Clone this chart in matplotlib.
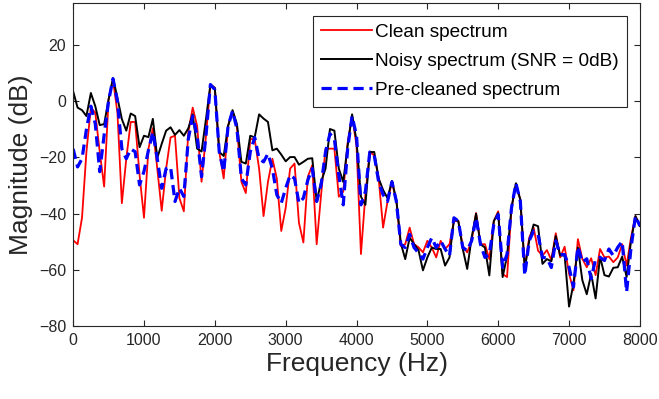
import numpy as np
import matplotlib
matplotlib.use("Agg")
import matplotlib.pyplot as plt

plt.rcParams['font.family'] = ['Liberation Sans', 'DejaVu Sans']

# frequency grid (Hz), 62.5 Hz bins up to 8 kHz
freq = np.arange(129) * 62.5

clean = [-49.5, -50.9, -41.5, -18.0, -2.3, -4.1, -18.0, -30.4, 0.6, 7.6,
         -4.1, -36.3, -20.5, -7.4, -7.4, -26.3, -41.5, -17.0, -9.6, -24.0,
         -39.0, -24.0, -12.9, -12.3, -34.5, -39.2, -11.1, -2.3, -8.8, -28.7,
         -12.3, 5.9, 4.7, -18.1, -27.5, -8.8, -3.5, -9.4, -28.7, -32.7,
         -13.5, -13.5, -24.0, -40.9, -28.7, -20.5, -27.5, -46.2, -38.0, -24.0,
         -22.2, -43.3, -50.3, -26.9, -22.8, -50.9, -33.3, -16.9, -16.9, -16.9,
         -34.0, -32.2, -14.7, -5.3, -15.8, -54.4, -33.3, -18.1, -19.3, -27.5,
         -45.0, -35.7, -28.7, -35.7, -51.5, -50.9, -45.0, -50.9, -52.0, -53.8,
         -49.7, -52.1, -55.6, -49.7, -52.6, -50.9, -42.7, -42.7, -51.5, -53.8,
         -49.7, -39.8, -50.9, -50.9, -56.2, -42.7, -39.2, -61.5, -62.6, -38.0,
         -29.8, -35.1, -59.1, -48.6, -45.0, -53.2, -55.0, -53.0, -56.5, -47.0,
         -55.6, -51.8, -61.4, -67.3, -49.1, -56.1, -59.1, -55.9, -61.9, -52.6,
         -55.6, -55.3, -57.3, -55.6, -50.9, -58.5, -48.5, -40.9, -44.4]

noisy = [3.5, -2.3, -3.2, -5.3, 2.9, -1.8, -8.5, -8.2, 0.6, 8.2,
         1.2, -6.4, -10.5, -4.4, -5.3, -16.4, -12.3, -12.8, -6.3, -20.2,
         -15.2, -10.5, -9.3, -12.0, -10.3, -12.3, -9.7, -4.7, -16.9, -17.9,
         -6.4, 5.9, 4.7, -18.1, -19.5, -8.8, -3.2, -8.2, -21.6, -22.2,
         -12.3, -12.9, -4.7, -6.2, -7.4, -17.5, -16.9, -19.0, -21.4, -19.9,
         -19.9, -22.6, -21.6, -20.5, -20.3, -35.7, -28.7, -24.0, -9.9, -10.5,
         -24.0, -28.7, -15.8, -4.7, -14.1, -34.0, -36.9, -18.1, -18.1, -27.5,
         -31.6, -34.5, -28.4, -35.1, -50.5, -56.2, -48.6, -50.9, -53.0, -60.2,
         -55.6, -52.1, -52.6, -52.6, -58.5, -55.6, -42.1, -42.7, -52.6, -59.7,
         -48.6, -40.0, -50.9, -52.1, -62.0, -42.7, -39.8, -62.6, -55.0, -38.0,
         -29.2, -35.1, -59.7, -49.7, -43.9, -44.5, -57.9, -56.2, -57.0, -48.0,
         -54.9, -54.9, -73.1, -64.9, -52.1, -63.7, -68.7, -61.4, -70.2, -55.3,
         -61.9, -62.4, -59.3, -59.1, -55.3, -62.6, -49.7, -40.9, -44.4]

precleaned = [-17.0, -23.4, -20.5, -10.0, -1.8, -8.0, -25.1, -12.0, 0.0, 8.0,
              0.0, -17.0, -20.5, -17.0, -18.0, -29.8, -25.0, -17.5, -11.0, -20.5,
              -31.0, -24.0, -23.4, -35.7, -31.0, -33.9, -13.5, -5.3, -12.3, -26.9,
              -12.3, 5.9, 4.1, -18.1, -25.1, -8.8, -3.5, -9.9, -27.5, -29.8,
              -18.1, -12.9, -20.5, -21.6, -18.7, -24.0, -33.3, -36.3, -31.0, -26.3,
              -27.5, -36.3, -34.5, -28.1, -24.0, -35.7, -29.8, -18.1, -11.6, -13.5,
              -26.3, -36.9, -16.9, -5.3, -12.3, -36.9, -32.2, -18.1, -19.3, -28.7,
              -33.3, -35.7, -28.7, -35.7, -50.9, -52.1, -47.4, -52.1, -54.0, -56.2,
              -52.1, -48.6, -52.1, -49.7, -52.6, -55.0, -41.5, -42.7, -52.1, -53.2,
              -49.7, -41.5, -50.9, -55.6, -54.4, -43.9, -40.4, -59.1, -54.4, -38.0,
              -29.2, -35.7, -62.0, -49.7, -46.2, -47.4, -55.6, -55.8, -59.2, -49.7,
              -54.6, -54.6, -59.1, -66.1, -51.8, -57.3, -56.1, -63.2, -56.1, -55.6,
              -56.7, -52.6, -55.0, -52.0, -49.9, -67.9, -52.1, -40.9, -44.4]

fig = plt.figure(figsize=(6.59, 3.99), dpi=100)
ax = fig.add_axes([0.111, 0.183, 0.86, 0.81])

ax.plot(freq, clean, color='#ff0000', lw=1.3, label='Clean spectrum')
ax.plot(freq, noisy, color='black', lw=1.4, label='Noisy spectrum (SNR = 0dB)')
ax.plot(freq, precleaned, color='#0000ff', lw=2.3, linestyle=(0, (3.2, 1.8)),
        label='Pre-cleaned spectrum')

ax.set_xlim(0, 8000)
ax.set_ylim(-80, 35)
ax.set_xticks(range(0, 8001, 1000))
ax.set_yticks(range(-80, 21, 20))

dark = '#262626'
for s in ax.spines.values():
    s.set_color(dark)
    s.set_linewidth(0.8)
ax.tick_params(direction='in', top=True, right=True, labelsize=11.5,
               colors=dark, length=4, width=0.8, pad=5)

ax.set_xlabel('Frequency (Hz)', fontsize=19, color=dark, labelpad=3)
ax.set_ylabel('Magnitude (dB)', fontsize=19, color=dark, labelpad=4)

leg = ax.legend(loc='upper right', fontsize=13.7, frameon=True, fancybox=False,
                edgecolor=dark, framealpha=1, borderpad=0.42, labelspacing=0.6,
                handlelength=2.7, handletextpad=0.15, borderaxespad=0.68)
leg.get_frame().set_linewidth(0.8)

plt.savefig('out.png', dpi=100)
